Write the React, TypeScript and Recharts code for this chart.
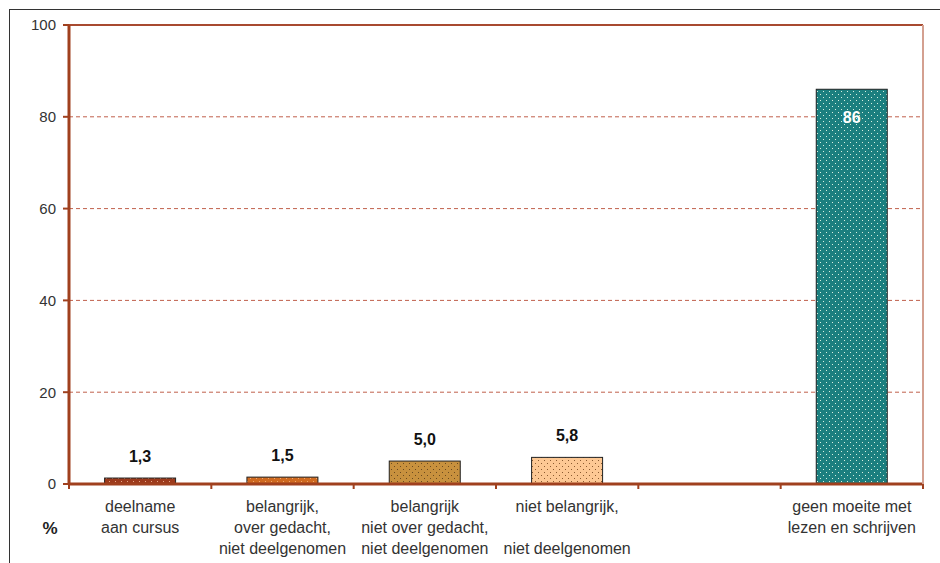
import React from 'react';
import { BarChart, Bar, XAxis, YAxis, CartesianGrid, ReferenceLine, LabelList } from 'recharts';

const categories = [
  'deelname\naan cursus',
  'belangrijk,\nover gedacht,\nniet deelgenomen',
  'belangrijk\nniet over gedacht,\nniet deelgenomen',
  'niet belangrijk,\n\nniet deelgenomen',
  '',
  'geen moeite met\nlezen en schrijven',
];
const values: (number | null)[] = [1.3, 1.5, 5.0, 5.8, null, 86];
const barColors = ['#9c3a1c', '#d06a20', '#c8913e', '#fdc894', '#ffffff', '#1b7f7f'];
const dotColors = ['#e8a888', '#f0a870', '#6a4a20', '#8a5a30', '#ffffff', '#d8f0e0'];
const insideLabel = [false, false, false, false, false, true];
const yTicks = [0, 20, 40, 60, 80, 100];

const data = categories.map((c, i) => ({ name: c, value: values[i] }));

const AXIS = '#a0401e';
const FONT = 'Arial, "Liberation Sans", sans-serif';
const PLOT_W = 854;

const fmt = (v: number) => (v >= 10 ? String(Math.round(v)) : v.toFixed(1).replace('.', ','));

const BarShape = (props: any) => {
  const { x, y, width, height, payload } = props;
  if (height == null || width == null || !(height > 0)) return null;
  const idx = categories.indexOf(payload?.name);
  const id = `dots${idx}`;
  const color = barColors[idx];
  const dot = dotColors[idx];
  return (
    <g>
      <defs>
        <pattern id={id} width={6} height={6} patternUnits="userSpaceOnUse">
          <rect width={6} height={6} fill={color} />
          <rect x={1} y={1} width={1} height={1} fill={dot} />
          <rect x={4} y={4} width={1} height={1} fill={dot} />
        </pattern>
      </defs>
      <rect x={x} y={y} width={width} height={height} fill={`url(#${id})`} stroke="#222" strokeWidth={1} />
    </g>
  );
};

const ValueLabel = (props: any) => {
  const { x, y, width, value } = props;
  if (value == null) return null;
  const idx = values.indexOf(value);
  const inside = insideLabel[idx];
  return (
    <text
      x={x + width / 2}
      y={inside ? y + 34 : y - 16}
      textAnchor="middle"
      fontFamily={FONT}
      fontWeight="bold"
      fontSize={16}
      fill={inside ? '#ffffff' : '#111'}
    >
      {fmt(value)}
    </text>
  );
};

const XTick = (props: any) => {
  const { x, y, payload, index, visibleTicksCount } = props;
  const w = typeof props.width === 'number' && props.width > 0 ? props.width : PLOT_W;
  const slot = w / (visibleTicksCount || categories.length);
  const lines = String(payload.value).split('\n');
  return (
    <g>
      <line x1={x - slot / 2} x2={x - slot / 2} y1={y} y2={y + 5} stroke={AXIS} strokeWidth={2} />
      {index === categories.length - 1 && (
        <line x1={x + slot / 2} x2={x + slot / 2} y1={y} y2={y + 5} stroke={AXIS} strokeWidth={2} />
      )}
      {lines.map((l, i) => (
        <text key={i} x={x} y={y + 28 + i * 21} textAnchor="middle" fontFamily={FONT} fontSize={16} fill="#333">
          {l}
        </text>
      ))}
    </g>
  );
};

const PercentLabel = (props: any) => {
  const vb = props.viewBox || { x: 0, y: 25, width: 69, height: 459 };
  return (
    <text x={vb.x + 50} y={vb.y + vb.height + 50} textAnchor="middle" fontFamily={FONT} fontWeight="bold" fontSize={17} fill="#222">
      %
    </text>
  );
};

export default function App() {
  return (
    <div style={{ position: 'absolute', left: 0, top: 0, width: 940, height: 563, overflow: 'hidden', background: '#fff' }}>
      <div
        style={{
          position: 'absolute',
          left: 9,
          top: 9,
          width: 960,
          height: 580,
          borderLeft: '1px solid #333',
          borderTop: '1px solid #333',
        }}
      />
      <div style={{ position: 'absolute', left: 0, top: 0 }}>
        <BarChart
          width={940}
          height={563}
          data={data}
          margin={{ top: 25, right: 16, bottom: 0, left: 0 }}
          barCategoryGap="25%"
        >
          <CartesianGrid vertical={false} stroke="#c0604c" strokeDasharray="4 3" yAxisId="left" />
          <XAxis
            dataKey="name"
            height={79}
            interval={0}
            tickSize={0}
            tickMargin={0}
            tickLine={false}
            axisLine={{ stroke: AXIS, strokeWidth: 3 }}
            tick={<XTick />}
          />
          <YAxis
            yAxisId="left"
            width={69}
            domain={[0, 100]}
            ticks={yTicks}
            interval={0}
            axisLine={{ stroke: AXIS, strokeWidth: 3 }}
            tickLine={{ stroke: AXIS, strokeWidth: 2 }}
            tickSize={6}
            tickMargin={7}
            tick={{ fontFamily: FONT, fontSize: 15, fill: '#333' }}
            label={<PercentLabel />}
          />
          <YAxis
            yAxisId="right"
            orientation="right"
            width={1}
            domain={[0, 100]}
            tick={false}
            tickLine={false}
            axisLine={{ stroke: '#d4a090', strokeWidth: 2 }}
          />
          <ReferenceLine y={100} yAxisId="left" stroke="#a84a30" strokeWidth={2} />
          <Bar dataKey="value" yAxisId="left" isAnimationActive={false} shape={<BarShape />}>
            <LabelList dataKey="value" content={<ValueLabel />} />
          </Bar>
        </BarChart>
      </div>
    </div>
  );
}
